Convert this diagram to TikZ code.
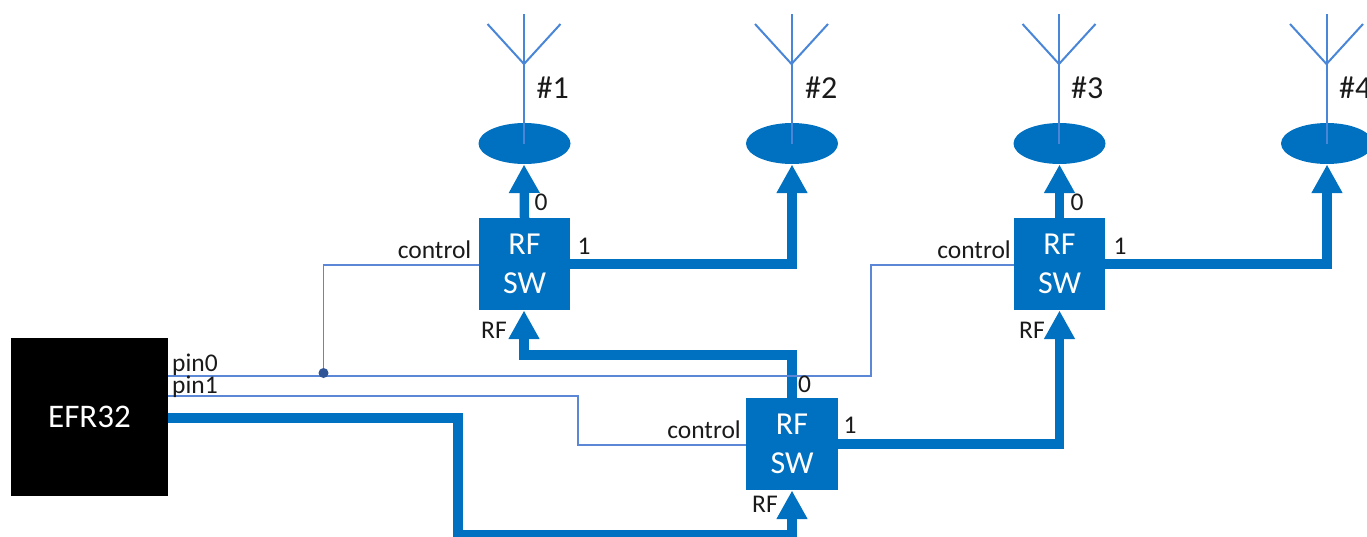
\documentclass[tikz,border=0pt]{standalone}
\usepackage{fontspec}
\setmainfont{Carlito}
\usetikzlibrary{arrows.meta,shapes.geometric,calc}
\definecolor{rfblue}{HTML}{0070C0}
\definecolor{sigblue}{HTML}{5B87D6}
\definecolor{antblue}{HTML}{4A86D8}
\definecolor{dotblue}{HTML}{2F5597}
\definecolor{txt}{HTML}{1A1A1A}
\tikzset{
  swbox/.style={draw=none,fill=rfblue,minimum width=91.5pt,minimum height=92pt,inner sep=0pt,outer sep=0pt,text=white,align=center,font=\fontsize{32}{39}\selectfont},
  mcu/.style={draw=none,fill=black,minimum width=157pt,minimum height=158pt,inner sep=0pt,outer sep=0pt,text=white,font=\fontsize{33}{38}\selectfont},
  port/.style={draw=none,fill=rfblue,ellipse,minimum width=92pt,minimum height=41pt,inner sep=0pt,outer sep=0pt},
  rfline/.style={draw=rfblue,line width=9.5pt,line join=miter,-{Triangle[length=28.5pt,width=29pt]}},
  sigline/.style={draw=sigblue,line width=1.2pt},
  antline/.style={draw=antblue,line width=2pt},
  lab/.style={text=txt,inner sep=0pt,font=\fontsize{25.5}{30}\selectfont},
  tag/.style={text=txt,inner sep=0pt,font=\fontsize{32}{36}\selectfont},
}
\begin{document}
\begin{tikzpicture}[x=1pt,y=-1pt]
\useasboundingbox (0,0) rectangle (1367,536);
\clip (0,0) rectangle (1367,536);
% blocks
\node[mcu] (efr) at (89.5,417) {EFR32};
\node[swbox] (swa) at (524.5,264) {\raisebox{-1pt}{RF}\\[0pt]\raisebox{-1pt}{SW}};
\node[swbox] (swb) at (1059.5,264) {\raisebox{-1pt}{RF}\\[0pt]\raisebox{-1pt}{SW}};
\node[swbox] (swc) at (792,444) {\raisebox{-1pt}{RF}\\[0pt]\raisebox{-1pt}{SW}};
\node[port] (pa) at (524.5,143.5) {};
\node[port] (pb) at (792,143.5) {};
\node[port] (pc) at (1059.5,143.5) {};
\node[port] (pd) at (1327,143.5) {};
% free ends
\coordinate (efrrf) at (168,418);
\coordinate (efrp0) at (168,376);
\coordinate (efrp1) at (168,396);
\coordinate (dot) at (323.5,373);
\coordinate (pa in) at (524,164.5);
\coordinate (pb in) at (792,164.5);
\coordinate (pc in) at (1059.5,164.5);
\coordinate (pd in) at (1327,164.5);
\coordinate (swa in) at (524,310.5);
\coordinate (swb in) at (1059.5,310.5);
\coordinate (swc in) at (792,490.5);
% antennas
\foreach \n/\x in {pa/524,pb/791.5,pc/1059,pd/1326.5}{
  \coordinate (\n v) at (\x,64);
  \draw[antline] (\x,144) -- (\x,14);
  \draw[antline] (\x-36.5,24) -- (\n v) -- (\x+36.5,24);
}
% RF paths
\draw[rfline] (swa.north) -- (pa in);
\draw[rfline] (swa.east) -- (pb in |- swa.east) -- (pb in);
\draw[rfline] (swb.north) -- (pc in);
\draw[rfline] (swb.east) -- (pd in |- swb.east) -- (pd in);
\draw[rfline] (swc.north) -- (792,355) -- (524,355) -- (swa in);
\draw[rfline] (swc.east) -- (swb in |- swc.east) -- (swb in);
\draw[rfline] (efrrf) -- (458,418) -- (458,534.5) -- (792,534.5) -- (swc in);
% control lines
\draw[sigline] (efrp0) -- (871,376) -- (871,265) -- (swb.west |- 0,265);
\draw[sigline] (dot) -- (323.5,265) -- (swa.west |- 0,265);
\draw[sigline] (efrp1) -- (578,396) -- (578,445) -- (swc.west |- 0,445);
\fill[dotblue] (dot) circle (5);
% labels
\node[lab,anchor=base west] (lp0) at (172,371.5) {pin0};
\node[lab,anchor=base west] (lp1) at (172,393.5) {pin1};
\node[lab,anchor=base east] (lca) at (471.5,258.5) {control};
\node[lab,anchor=base east] (lcb) at (1011,258.5) {control};
\node[lab,anchor=base east] (lcc) at (741,438.5) {control};
\node[lab] (a0) at (541,202.5) {0};
\node[lab] (a1) at (584,246) {1};
\node[lab] (arf) at (494,330) {RF};
\node[lab] (b0) at (1077,202.5) {0};
\node[lab] (b1) at (1120,246) {1};
\node[lab] (brf) at (1032,330) {RF};
\node[lab] (c0) at (804.5,384) {0};
\node[lab] (c1) at (850,425) {1};
\node[lab] (crf) at (765,504) {RF};
\node[tag,anchor=west] (t1) at (536.5,88) {\#1};
\node[tag,anchor=west] (t2) at (805,88) {\#2};
\node[tag,anchor=west] (t3) at (1071,88) {\#3};
\node[tag,anchor=west] (t4) at (1339,88) {\#4};
\end{tikzpicture}
\end{document}
